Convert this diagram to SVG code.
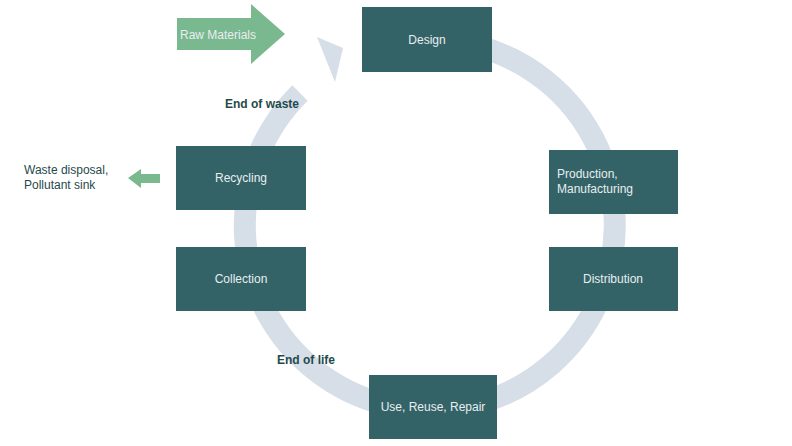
<svg xmlns="http://www.w3.org/2000/svg" width="792" height="446" viewBox="0 0 792 446">
<style>
.box{fill:#336367}
.bt{font-family:"Liberation Sans",Arial,sans-serif;font-size:12px;fill:#e8eef0}
.lb{font-family:"Liberation Sans",Arial,sans-serif;font-size:12px;fill:#1f4a4c}
</style>
<rect width="792" height="446" fill="#fff"/>
<g id="connectors">
<path d="M 477 46 A 185 185 0 1 1 300 93" fill="none" stroke="#d6dee7" stroke-width="22"/>
<polygon points="343,48 317,37 335,82" fill="#d6dee7"/>
<polygon points="177,18 251,18 251,4 285,34 251,64 251,50 177,50" fill="#7ab88f"/>
<polygon points="128,178 141,169 141,174 160,174 160,183 141,183 141,188" fill="#7ab88f"/>
</g>
<text class="bt" x="180" y="39" font-size="14" fill="#eef5f0">Raw Materials</text>
<g id="design"><rect class="box" x="362" y="7" width="130" height="65"/><text class="bt" x="427" y="44" text-anchor="middle">Design</text></g>
<g id="production"><rect class="box" x="549" y="150" width="129" height="64"/><text class="bt" x="557" y="178">Production,</text><text class="bt" x="557" y="193">Manufacturing</text></g>
<g id="distribution"><rect class="box" x="549" y="247" width="129" height="64"/><text class="bt" x="613" y="283" text-anchor="middle">Distribution</text></g>
<g id="use"><rect class="box" x="369" y="375" width="128" height="64"/><text class="bt" x="433" y="411" text-anchor="middle">Use, Reuse, Repair</text></g>
<g id="collection"><rect class="box" x="176" y="247" width="130" height="64"/><text class="bt" x="241" y="283" text-anchor="middle">Collection</text></g>
<g id="recycling"><rect class="box" x="176" y="146" width="130" height="64"/><text class="bt" x="241" y="182" text-anchor="middle">Recycling</text></g>
<text class="lb" x="225" y="108" font-weight="bold">End of waste</text>
<text class="lb" x="277" y="364" font-weight="bold">End of life</text>
<text class="lb" x="24" y="174">Waste disposal,</text>
<text class="lb" x="24" y="189">Pollutant sink</text>
</svg>
